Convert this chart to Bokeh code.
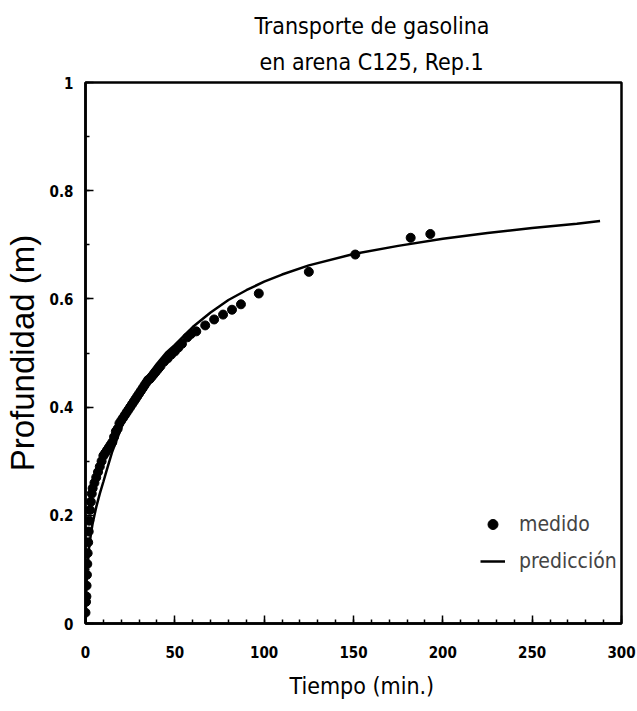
from bokeh.plotting import figure
from bokeh.models import Range1d, SingleIntervalTicker, Title, Legend, LegendItem
from bokeh.embed import file_html
from bokeh.resources import INLINE

# ---- data ----
medido_t = [0, 0.3, 0.5, 0.6, 0.8, 1.0, 1.2, 1.5, 1.8, 2.1, 2.5, 3, 3.5, 4, 5, 6, 7, 8, 9, 10,
            11, 12, 13, 14, 15, 16, 17, 18, 19, 20, 21, 22, 23, 24, 25, 26, 27, 28, 29, 30,
            31, 32, 33, 34, 35, 36, 37, 38, 39, 40, 41, 42, 44, 46, 48, 50, 52, 54, 57, 59,
            62, 67, 72, 77, 82, 87, 97, 125, 151, 182, 193]
medido_y = [0.02, 0.04, 0.05, 0.07, 0.09, 0.11, 0.13, 0.15, 0.17, 0.19, 0.21, 0.225, 0.24, 0.25, 0.26, 0.27, 0.28, 0.29, 0.30, 0.31,
            0.315, 0.32, 0.325, 0.33, 0.335, 0.345, 0.355, 0.36, 0.37, 0.375, 0.38, 0.385, 0.39, 0.395, 0.40, 0.405, 0.41, 0.415, 0.42, 0.425,
            0.43, 0.435, 0.44, 0.445, 0.45, 0.452, 0.456, 0.46, 0.464, 0.468, 0.472, 0.476, 0.484, 0.49, 0.497, 0.503, 0.51, 0.517, 0.529, 0.535,
            0.54, 0.551, 0.562, 0.571, 0.58, 0.59, 0.61, 0.65, 0.682, 0.713, 0.72]

pred_t = [0, 0.5, 1, 2, 3, 4, 5, 6, 8, 10, 12, 15, 18, 21, 25, 30, 35, 40, 45, 50,
          60, 70, 80, 90, 100, 110, 125, 150, 175, 200, 225, 250, 275, 288]
pred_y = [0, 0.07, 0.10, 0.14, 0.165, 0.185, 0.20, 0.215, 0.24, 0.262, 0.285, 0.318, 0.344, 0.37, 0.40, 0.432, 0.458, 0.48, 0.50, 0.515,
          0.548, 0.575, 0.598, 0.616, 0.632, 0.645, 0.662, 0.683, 0.698, 0.711, 0.722, 0.731, 0.739, 0.744]

y_tick_values = [0, 0.2, 0.4, 0.6, 0.8, 1.0]
y_tick_labels = ["0", "0.2", "0.4", "0.6", "0.8", "1"]

title_lines = ["Transporte de gasolina", "en arena C125, Rep.1"]
x_label = "Tiempo (min.)"
y_label = "Profundidad (m)"
legend_labels = ["medido", "predicción"]

NARROW = "DejaVu Sans Condensed, Liberation Sans"
REG = "Liberation Sans"

p = figure(width=637, height=711, output_backend="svg", toolbar_location=None,
           x_range=Range1d(0, 300), y_range=Range1d(0, 1),
           min_border_left=85, min_border_right=16, min_border_top=82, min_border_bottom=88)
p.background_fill_color = "white"
p.border_fill_color = "white"
p.grid.visible = False
p.outline_line_color = "black"
p.outline_line_width = 2.5

r_line = p.line(pred_t, pred_y, line_color="black", line_width=2.5)
r_pts = p.scatter(medido_t, medido_y, size=9, fill_color="black", line_color="black")

# axes
p.xaxis.ticker = SingleIntervalTicker(interval=50, num_minor_ticks=5)
p.yaxis.ticker = SingleIntervalTicker(interval=0.2, num_minor_ticks=2)
p.yaxis.major_label_overrides = {v: s for v, s in zip(y_tick_values, y_tick_labels)}
for ax in (p.xaxis[0], p.yaxis[0]):
    ax.axis_line_width = 2.5
    ax.axis_line_color = "black"
    ax.major_tick_in = 8
    ax.major_tick_out = 0
    ax.minor_tick_in = 4
    ax.minor_tick_out = 0
    ax.major_tick_line_width = 1.5
    ax.minor_tick_line_width = 1.5
    ax.major_label_text_font = NARROW
    ax.major_label_text_font_style = "bold"
    ax.major_label_text_font_size = "15px"
    ax.major_label_text_color = "black"
    ax.axis_label_text_font_style = "normal"
    ax.axis_label_text_color = "black"

p.xaxis.major_label_standoff = 22
p.yaxis.major_label_standoff = 12
p.yaxis.axis_label = y_label
p.yaxis.axis_label_text_font = REG
p.yaxis.axis_label_text_font_size = "33px"
p.yaxis.axis_label_standoff = 6

# x-axis label as a bottom title so it can sit right of centre like the reference
p.add_layout(Title(text=x_label, align="left", offset=204, standoff=20,
                   text_baseline="alphabetic",
                   text_font=NARROW, text_font_size="23px", text_font_style="normal",
                   text_color="black"), "below")

# two-line title (second line added first so it sits closest to the frame)
p.add_layout(Title(text=title_lines[1], align="left", offset=174, standoff=16,
                   text_font=NARROW, text_font_size="23px", text_font_style="normal",
                   text_color="black"), "above")
p.add_layout(Title(text=title_lines[0], align="left", offset=169, standoff=0,
                   text_font=NARROW, text_font_size="23px", text_font_style="normal",
                   text_color="black"), "above")

legend = Legend(items=[LegendItem(label=legend_labels[0], renderers=[r_pts]),
                       LegendItem(label=legend_labels[1], renderers=[r_line])],
                location=(395, 47), border_line_color=None, background_fill_alpha=0,
                padding=0, margin=0, spacing=7, glyph_width=25, glyph_height=30,
                label_height=30, label_standoff=14,
                label_text_font=NARROW, label_text_font_size="21px",
                label_text_baseline="middle")
p.add_layout(legend)

open("out.html", "w").write(file_html(p, INLINE))
